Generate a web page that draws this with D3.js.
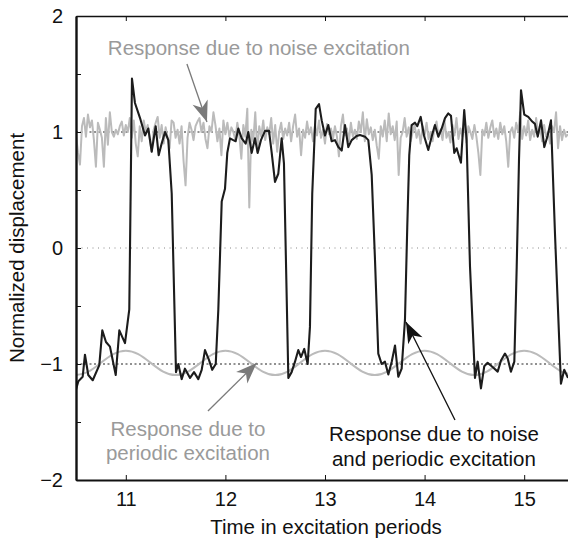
<!DOCTYPE html>
<html>
<head>
<meta charset="utf-8">
<script src="https://cdn.jsdelivr.net/npm/d3@7"></script>
<style>
  body { margin: 0; background: #fff; }
  text { font-family: "Liberation Sans", Arial, sans-serif; }
</style>
</head>
<body>
<div id="chart"></div>
<script>
// Response due to noise excitation only, sampled every 0.02 period from t = 10.5
var noiseStart = 10.5, noiseStep = 0.02;
var noiseOnly = [
  0.98, 0.82, 0.72, 1.05, 1.12, 0.96, 1.15, 1.04, 1.10, 0.93,
  0.70, 1.08, 1.02, 0.95, 0.70, 1.12, 0.89, 1.17, 1.00, 0.96,
  1.02, 0.98, 1.05, 1.09, 0.97, 1.06, 1.00, 1.12, 0.95, 1.10,
  0.90, 0.79, 1.05, 0.92, 1.10, 1.00, 1.06, 0.94, 0.83, 1.02,
  1.08, 1.13, 0.95, 1.06, 0.90, 1.04, 0.95, 0.86, 1.10, 1.08,
  0.95, 1.02, 0.90, 1.05, 0.75, 0.54, 0.95, 1.08, 1.02, 0.93,
  1.05, 1.09, 1.12, 1.00, 1.08, 0.94, 0.86, 1.05, 1.00, 1.17,
  1.06, 0.92, 1.03, 0.80, 1.10, 0.98, 1.08, 0.96, 1.04, 1.00,
  0.93, 1.08, 0.97, 0.77, 1.06, 0.96, 1.20, 0.35, 1.02, 0.92,
  1.17, 0.83, 1.05, 0.96, 1.10, 0.93, 1.04, 0.98, 1.12, 0.90,
  1.06, 0.83, 1.00, 1.08, 0.94, 1.03, 0.97, 1.08, 0.92, 1.05,
  1.15, 0.96, 1.03, 0.80, 1.02, 0.95, 1.09, 0.98, 1.04, 0.92,
  1.06, 0.97, 1.10, 0.95, 1.02, 0.90, 1.07, 0.98, 1.03, 0.94,
  1.05, 0.96, 0.79, 1.05, 1.15, 0.97, 1.03, 0.92, 1.08, 0.96,
  1.02, 0.94, 1.09, 1.00, 1.17, 0.92, 1.11, 0.98, 1.04, 0.93,
  1.02, 0.88, 0.77, 1.05, 0.96, 1.10, 0.92, 1.16, 0.98, 1.05,
  0.93, 1.09, 0.63, 0.95, 1.00, 1.12, 0.96, 1.04, 0.92, 1.00,
  1.06, 0.95, 1.02, 0.90, 1.05, 0.97, 1.08, 0.94, 1.00, 0.92,
  1.04, 1.09, 0.96, 1.02, 0.93, 1.10, 0.95, 1.00, 0.91, 1.06,
  0.97, 1.12, 0.94, 1.03, 0.96, 1.08, 0.91, 1.05, 1.00, 0.94,
  1.06, 0.96, 0.82, 0.63, 1.02, 0.97, 1.08, 0.95, 1.04, 1.10,
  0.96, 1.03, 0.94, 1.08, 0.98, 1.05, 0.92, 0.70, 1.00, 1.04,
  0.95, 1.08, 1.00, 1.17, 0.94, 1.05, 0.97, 1.10, 0.93, 1.02,
  0.96, 1.12, 0.98, 1.04, 0.92, 1.06, 0.96, 1.00, 0.90, 1.05,
  1.00, 1.17, 0.86, 1.05, 0.93, 1.02, 0.96, 0.98
];

// Response due to periodic excitation only, sampled every 1/8 period from t = 10.5
var periodicStart = 10.5, periodicStep = 0.125;
var periodicOnly = [
  -1.095, -1.065, -0.99, -0.915, -0.885, -0.915, -0.99, -1.065,
  -1.095, -1.065, -0.99, -0.915, -0.885, -0.915, -0.99, -1.065,
  -1.095, -1.065, -0.99, -0.915, -0.885, -0.915, -0.99, -1.065,
  -1.095, -1.065, -0.99, -0.915, -0.885, -0.915, -0.99, -1.065,
  -1.095, -1.065, -0.99, -0.915, -0.885, -0.915, -0.99, -1.065,
  -1.095
];

// Response due to noise and periodic excitation
var combinedTime = [
  10.500, 10.523, 10.567, 10.590, 10.623, 10.668, 10.734, 10.764, 10.801, 10.841,
  10.899, 10.935, 10.992, 11.035, 11.062, 11.092, 11.143, 11.193, 11.226, 11.260,
  11.300, 11.330, 11.360, 11.394, 11.427, 11.461, 11.504, 11.527, 11.561, 11.594,
  11.645, 11.685, 11.728, 11.762, 11.795, 11.835, 11.868, 11.903, 11.929, 11.963,
  11.996, 12.019, 12.046, 12.079, 12.103, 12.130, 12.164, 12.204, 12.230, 12.264,
  12.297, 12.324, 12.357, 12.398, 12.438, 12.465, 12.498, 12.531, 12.565, 12.588,
  12.632, 12.665, 12.699, 12.732, 12.759, 12.792, 12.826, 12.849, 12.872, 12.907,
  12.940, 12.967, 13.000, 13.033, 13.067, 13.100, 13.134, 13.168, 13.201, 13.234,
  13.268, 13.318, 13.351, 13.402, 13.435, 13.469, 13.502, 13.535, 13.569, 13.602,
  13.636, 13.670, 13.703, 13.736, 13.770, 13.803, 13.826, 13.846, 13.870, 13.904,
  13.927, 13.961, 13.994, 14.037, 14.071, 14.104, 14.138, 14.172, 14.205, 14.238,
  14.265, 14.298, 14.322, 14.365, 14.398, 14.422, 14.456, 14.506, 14.533, 14.566,
  14.599, 14.633, 14.674, 14.734, 14.767, 14.807, 14.834, 14.867, 14.901, 14.925,
  14.948, 14.968, 15.001, 15.041, 15.081, 15.108, 15.136, 15.169, 15.202, 15.236,
  15.269, 15.309, 15.369, 15.402, 15.440
];
var combinedValue = [
  -1.22, -1.15, -1.11, -0.92, -1.095, -1.14, -1.01, -0.71, -0.81, -0.85,
  -1.095, -0.71, -0.82, -0.53, 1.46, 1.25, 1.12, 0.97, 1.03, 0.83,
  1.05, 0.80, 0.90, 1.00, 0.93, 0.47, -1.07, -1.00, -1.13, -1.04,
  -1.12, -1.07, -1.13, -1.05, -0.88, -0.965, -1.05, -1.00, -0.53, 0.40,
  0.51, 0.82, 0.945, 0.93, 0.92, 1.03, 0.945, 0.90, 1.00, 0.82,
  0.945, 0.82, 0.93, 1.01, 1.01, 0.82, 0.57, 0.64, 0.945, 0.73,
  -1.12, -1.07, -0.98, -0.88, -0.94, -0.87, -1.00, -0.68, 0.47, 1.20,
  1.24, 1.10, 0.97, 1.06, 0.92, 0.93, 0.87, 0.84, 1.06, 0.87,
  0.93, 0.965, 0.975, 0.96, 0.93, 0.63, -0.10, -0.91, -1.00, -0.98,
  -1.09, -0.98, -0.84, -1.11, -1.04, -0.62, 0.18, 0.80, 1.06, 1.08,
  1.05, 1.13, 0.97, 0.845, 0.96, 1.06, 0.96, 1.03, 1.12, 1.16,
  1.14, 0.82, 0.86, 0.735, 1.19, 0.93, -0.16, -1.12, -0.98, -1.21,
  -1.02, -0.99, -1.02, -1.066, -0.97, -0.91, -0.95, -1.066, -0.98, -0.16,
  0.76, 1.36, 1.15, 1.13, 1.09, 1.07, 0.96, 1.10, 0.87, 0.97,
  1.10, 0.13, -1.17, -1.05, -1.12
];

var xTicks = [11, 12, 13, 14, 15];
var yTicks = [-2, -1, 0, 1, 2];
var yMinorTicks = [-1.5, -0.5, 0.5, 1.5];
var refLines = [1, 0, -1];

var width = 568, height = 542;
var margin = {top: 16, right: -1, bottom: 62, left: 76};

var svg = d3.select("#chart").append("svg")
    .attr("width", width)
    .attr("height", height);

var x = d3.scaleLinear().domain([10.5, 15.45]).range([margin.left, width - margin.right]);
var y = d3.scaleLinear().domain([-2, 2]).range([height - margin.bottom, margin.top]);

svg.append("defs").append("clipPath").attr("id", "plot")
  .append("rect")
    .attr("x", margin.left).attr("y", margin.top)
    .attr("width", width - margin.left - margin.right)
    .attr("height", height - margin.top - margin.bottom);

// Dotted reference lines
svg.selectAll(".ref")
    .data(refLines)
  .enter().append("line")
    .attr("x1", margin.left).attr("x2", width)
    .attr("y1", function(d) { return y(d); })
    .attr("y2", function(d) { return y(d); })
    .attr("stroke", function(d) { return d === 0 ? "#888" : "#222"; })
    .attr("stroke-width", 1)
    .attr("stroke-dasharray", function(d) { return d === 0 ? "1,4.5" : "2,2.5"; });

var plot = svg.append("g").attr("clip-path", "url(#plot)");

var line = d3.line()
    .x(function(d) { return x(d[0]); })
    .y(function(d) { return y(d[1]); });

// Noise-only response
plot.append("path")
    .datum(noiseOnly.map(function(v, i) { return [noiseStart + i * noiseStep, v]; }))
    .attr("fill", "none")
    .attr("stroke", "#bbbbbb")
    .attr("stroke-width", 2)
    .attr("stroke-linejoin", "round")
    .attr("d", line);

// Periodic-only response
plot.append("path")
    .datum(periodicOnly.map(function(v, i) { return [periodicStart + i * periodicStep, v]; }))
    .attr("fill", "none")
    .attr("stroke", "#bbbbbb")
    .attr("stroke-width", 2)
    .attr("d", line.curve(d3.curveNatural));

// Noise + periodic response
plot.append("path")
    .datum(combinedTime.map(function(t, i) { return [t, combinedValue[i]]; }))
    .attr("fill", "none")
    .attr("stroke", "#1c1c1c")
    .attr("stroke-width", 2.1)
    .attr("stroke-linejoin", "round")
    .attr("d", line.curve(d3.curveLinear));

// Axes
var axisBottom = svg.append("g")
    .attr("transform", "translate(0," + y(-2) + ")")
    .call(d3.axisBottom(x).tickValues(xTicks).tickSizeInner(-5).tickSizeOuter(0).tickPadding(12)
      .tickFormat(d3.format("d")));
axisBottom.select(".domain").attr("stroke-width", 2).attr("stroke", "#111");

var axisTop = svg.append("g")
    .attr("transform", "translate(0," + y(2) + ")")
    .call(d3.axisTop(x).tickValues(xTicks).tickSizeInner(-5).tickSizeOuter(0).tickFormat(""));
axisTop.select(".domain").attr("stroke-width", 1.6).attr("stroke", "#111");

var axisLeft = svg.append("g")
    .attr("transform", "translate(" + x(10.5) + ",0)")
    .call(d3.axisLeft(y).tickValues(yTicks).tickSizeInner(-5).tickSizeOuter(0).tickPadding(13)
      .tickFormat(function(d) { return d < 0 ? "\u2212" + Math.abs(d) : d; }));
axisLeft.select(".domain").attr("stroke-width", 2.4).attr("stroke", "#111");

svg.append("g")
    .attr("transform", "translate(" + x(10.5) + ",0)")
    .call(d3.axisLeft(y).tickValues(yMinorTicks).tickSizeInner(-5).tickSizeOuter(0).tickFormat(""))
    .select(".domain").remove();

svg.selectAll(".tick text")
    .attr("font-size", 20)
    .attr("fill", "#111")
    .style("font-family", "'Liberation Sans', Arial, sans-serif");
svg.selectAll(".tick line").attr("stroke", "#111");

// Axis titles
svg.append("text")
    .attr("x", (x(10.5) + 568) / 2 + 4)
    .attr("y", 534)
    .attr("text-anchor", "middle")
    .attr("font-size", 20.5)
    .attr("fill", "#111")
    .text("Time in excitation periods");

svg.append("text")
    .attr("transform", "translate(24," + y(0) + ") rotate(-90)")
    .attr("text-anchor", "middle")
    .attr("font-size", 20.5)
    .attr("fill", "#111")
    .text("Normalized displacement");

// Arrow from (t0, v0) to (t1, v1), with a filled notched head at the tip
function arrow(t0, v0, t1, v1, color) {
  var x0 = x(t0), y0 = y(v0), x1 = x(t1), y1 = y(v1);
  var a = Math.atan2(y1 - y0, x1 - x0) * 180 / Math.PI;
  svg.append("line")
      .attr("x1", x0).attr("y1", y0).attr("x2", x1).attr("y2", y1)
      .attr("stroke", color).attr("stroke-width", 1.3);
  svg.append("path")
      .attr("transform", "translate(" + x1 + "," + y1 + ") rotate(" + a + ")")
      .attr("d", "M0,0 L-21,-8 L-15,0 L-21,8 Z")
      .attr("fill", color);
}

// Annotations
svg.append("text")
    .attr("x", x(10.82)).attr("y", y(1.664))
    .attr("font-size", 20.5).attr("fill", "#9a9a9a")
    .text("Response due to noise excitation");
arrow(11.614, 1.586, 11.815, 1.086, "#7a7a7a");

var periodicLabel = svg.append("text")
    .attr("text-anchor", "middle")
    .attr("font-size", 20.5).attr("fill", "#9a9a9a");
periodicLabel.append("tspan").attr("x", x(11.624)).attr("y", y(-1.621)).text("Response due to");
periodicLabel.append("tspan").attr("x", x(11.624)).attr("y", y(-1.828)).text("periodic excitation");
arrow(11.825, -1.405, 12.314, -0.991, "#7a7a7a");

var combinedLabel = svg.append("text")
    .attr("text-anchor", "middle")
    .attr("font-size", 20.5).attr("fill", "#111");
combinedLabel.append("tspan").attr("x", x(14.094)).attr("y", y(-1.664)).text("Response due to noise");
combinedLabel.append("tspan").attr("x", x(14.094)).attr("y", y(-1.879)).text("and periodic excitation");
arrow(14.305, -1.483, 13.813, -0.638, "#111");
</script>
</body>
</html>
